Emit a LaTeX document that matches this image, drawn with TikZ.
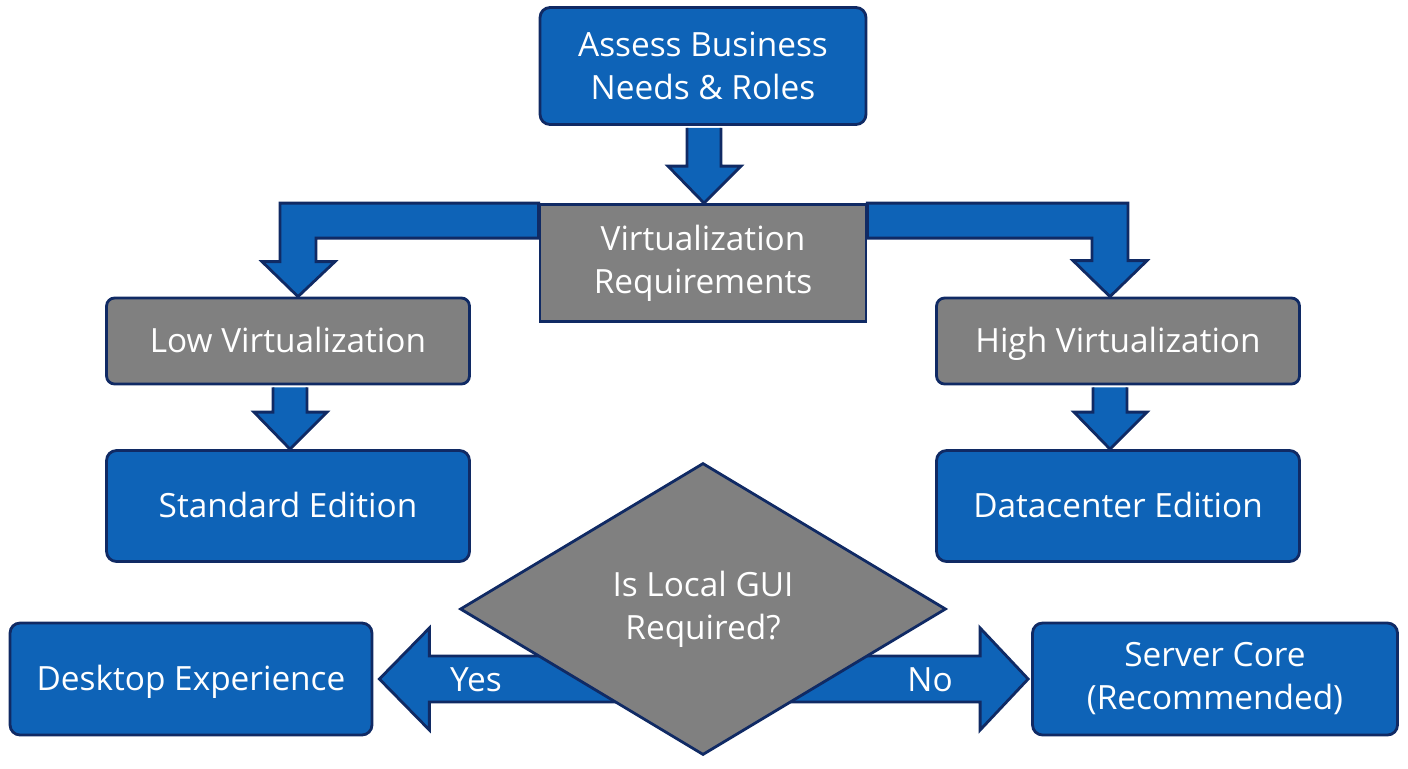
\documentclass[tikz,border=0pt]{standalone}
\usepackage{fontspec}
\setmainfont{Open Sans}
\usetikzlibrary{shapes.geometric,calc,backgrounds}

\definecolor{boxblue}{RGB}{14,99,183}
\definecolor{navy}{RGB}{16,42,100}
\definecolor{boxgray}{RGB}{128,128,128}

\tikzset{
box/.style={draw=navy, line width=1.6pt, text=white, align=center, inner sep=0pt, font=\fontsize{19}{24.5}\selectfont},
bluebox/.style={box, fill=boxblue, rounded corners=0.2cm},
graybox/.style={box, fill=boxgray},
oneline/.style={text height=13.6pt, text depth=0pt},
barrow/.style={draw=navy, fill=boxblue, line width=1.6pt, line join=miter},
lbl/.style={text=white, font=\fontsize{19}{24.5}\selectfont}
}

\begin{document}
\begin{tikzpicture}[x=0.02cm, y=-0.02cm]
\useasboundingbox (0,0) rectangle (1408,768);

% boxes
\node[bluebox, minimum width=6.52cm, minimum height=2.34cm] (assess) at (703,66) {Assess Business\\Needs \& Roles};
\node[graybox, minimum width=6.52cm, minimum height=2.34cm] (virtreq) at (703,263) {Virtualization\\Requirements};
\node[graybox, oneline, rounded corners=0.16cm, minimum width=7.26cm, minimum height=1.72cm] (lowvirt) at (288,341) {Low Virtualization};
\node[graybox, oneline, rounded corners=0.16cm, minimum width=7.26cm, minimum height=1.72cm] (highvirt) at (1118,341) {High Virtualization};
\node[bluebox, oneline, minimum width=7.26cm, minimum height=2.22cm] (standard) at (288,506) {Standard Edition};
\node[bluebox, oneline, minimum width=7.26cm, minimum height=2.22cm] (datacenter) at (1118,506) {Datacenter Edition};
\node[bluebox, oneline, minimum width=7.24cm, minimum height=2.24cm] (desktop) at (191,679) {Desktop Experience};
\node[bluebox, minimum width=7.3cm, minimum height=2.24cm] (servercore) at (1215,679) {Server Core\\(Recommended)};
\node[graybox, diamond, minimum width=9.72cm, minimum height=5.84cm] (decision) at (703,609) {Is Local GUI\\Required?};

% straight down arrows
\foreach \a/\b/\dx in {assess/virtreq/1, lowvirt/standard/2, highvirt/datacenter/-8}
\draw[barrow] ($(\a.south)+(\dx-17,2)$) -- ($(\b.north)+(\dx-17,-37)$) -- ++(-19,0) -- ($(\b.north)+(\dx,0)$) -- ++(37,-37) -- ++(-20,0) -- ($(\a.south)+(\dx+17,2)$);

% arrows behind the boxes
\begin{scope}[on background layer]
\coordinate (lt) at ($(lowvirt.north)+(10,0)$);
\coordinate (rt) at ($(highvirt.north)+(-8,0)$);
\draw[barrow] (virtreq.north west) -| ($(lt)+(-18,-35)$) -- ++(-18,0) -- (lt) -- ++(37,-35) -- ++(-19,0) |- ($(virtreq.north west)+(0,35)$) -- cycle;
\draw[barrow] (virtreq.north east) -| ($(rt)+(18,-36)$) -- ++(19,0) -- (rt) -- ++(-37,-36) -- ++(19,0) |- ($(virtreq.north east)+(0,35)$) -- cycle;

\coordinate (yes) at ($(desktop.east)+(6,0)$);
\coordinate (no) at ($(servercore.west)+(-3,0)$);
\draw[barrow] (yes) -- ++(50,-51) -- ++(0,28) -- ++(275,0) -- ++(0,46) -- ++(-275,0) -- ++(0,28) -- cycle;
\draw[barrow] (no) -- ++(-48,-51) -- ++(0,28) -- ++(-279,0) -- ++(0,46) -- ++(279,0) -- ++(0,28) -- cycle;
\end{scope}

\node[lbl] (yeslbl) at (476,680) {Yes};
\node[lbl] (nolbl) at (930,680) {No};
\end{tikzpicture}
\end{document}
